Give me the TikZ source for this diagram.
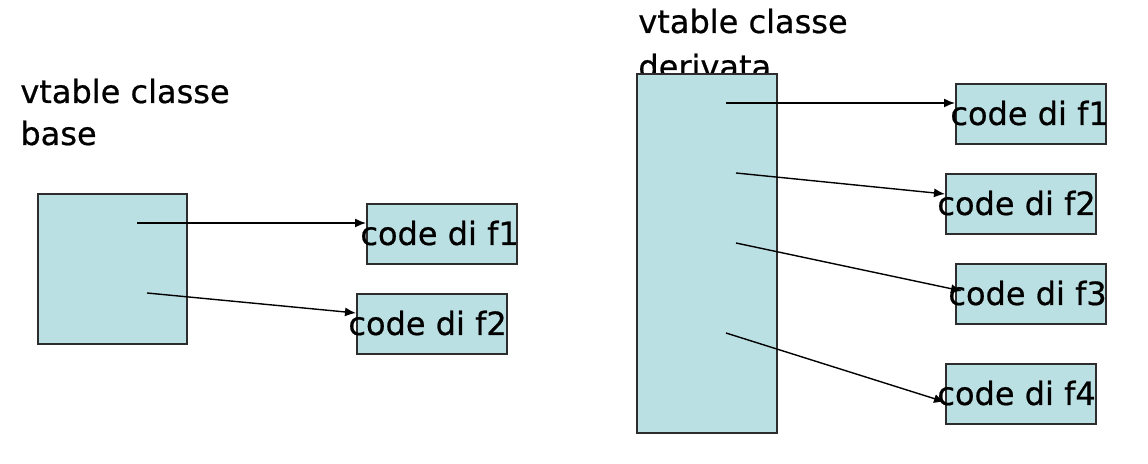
\documentclass[tikz,border=0pt]{standalone}
\usepackage{fontspec}
\setmainfont{DejaVu Sans}
\newfontfamily\slidefont[FakeBold=0.6]{DejaVu Sans}
\usetikzlibrary{positioning, arrows.meta}
\definecolor{TableBlue}{RGB}{187, 224, 227}
\definecolor{EdgeGray}{RGB}{45, 45, 45}

\begin{document}
\begin{tikzpicture}[x=0.5pt, y=-0.5pt,
    tbl/.style={draw=EdgeGray, fill=TableBlue, line width=0.8pt, anchor=north west, inner sep=0pt},
    fnbox/.style={tbl, minimum width=75pt, minimum height=30pt},
    lbl/.style={anchor=base west, inner sep=0pt, font=\slidefont\fontsize{16}{19}\selectfont},
    ptr/.style={-{Latex[length=5.5pt, width=4.5pt]}, line width=0.7pt}]
    \useasboundingbox (0,0) rectangle (1148,464);

    % Base class
    \node[lbl] (tbase1) at (20,103) {vtable classe};
    \node[lbl] (tbase2) at (20,145) {base};
    \node[tbl, minimum width=74.5pt, minimum height=75pt] (vbase) at (37,193) {};

    \node[fnbox] (bf1) at (366,203) {};
    \node[lbl] at ([xshift=-3pt, yshift=-21pt]bf1.north west) {code di f1};
    \node[fnbox] (bf2) at (356,293) {};
    \node[lbl] at ([xshift=-4pt, yshift=-21pt]bf2.north west) {code di f2};

    \coordinate (pb1) at (137,223);
    \coordinate (pb2) at (147,293);
    \draw[ptr] (pb1) -- ([yshift=-10pt]bf1.north west);
    \draw[ptr] (pb2) -- ([yshift=-10pt]bf2.north west);

    % Derived class
    \node[lbl] (tder1) at (638,33) {vtable classe};
    \node[lbl] (tder2) at (638,78) {derivata};
    \node[tbl, minimum width=70pt, minimum height=179.5pt] (vder) at (636,73) {};

    \node[fnbox] (df1) at (955,83) {};
    \node[lbl] at ([xshift=-2.5pt, yshift=-21pt]df1.north west) {code di f1};
    \node[fnbox] (df2) at (945,173) {};
    \node[lbl] at ([xshift=-4pt, yshift=-21pt]df2.north west) {code di f2};
    \node[fnbox] (df3) at (955,263) {};
    \node[lbl] at ([xshift=-3.5pt, yshift=-21pt]df3.north west) {code di f3};
    \node[fnbox] (df4) at (945,363) {};
    \node[lbl] at ([xshift=-4pt, yshift=-21pt]df4.north west) {code di f4};

    \coordinate (pd1) at (726,103);
    \coordinate (pd2) at (736,173);
    \coordinate (pd3) at (736,243);
    \coordinate (pd4) at (726,333);
    \draw[ptr] (pd1) -- ([yshift=-10pt]df1.north west);
    \draw[ptr] (pd2) -- ([yshift=-10.5pt]df2.north west);
    \draw[ptr] (pd3) -- ([xshift=3.5pt, yshift=-14pt]df3.north west);
    \draw[ptr] (pd4) -- ([yshift=-19.5pt]df4.north west);
\end{tikzpicture}
\end{document}
